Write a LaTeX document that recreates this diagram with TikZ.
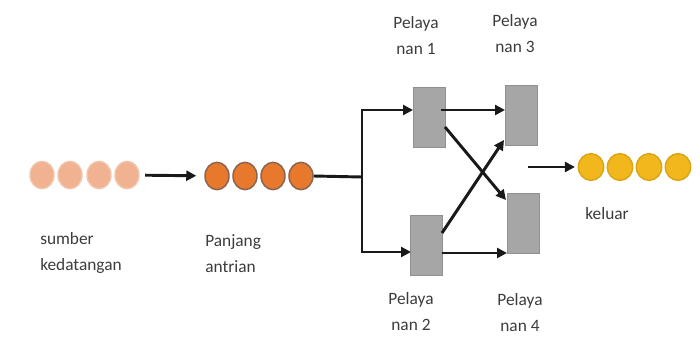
\documentclass[tikz,border=0pt]{standalone}
\usepackage{fontspec}
\setmainfont{Carlito}
\usetikzlibrary{arrows.meta,shapes.geometric}
\definecolor{srcfill}{HTML}{F0B290}
\definecolor{srcline}{HTML}{EFC6AC}
\definecolor{qfill}{HTML}{E8792C}
\definecolor{qline}{HTML}{8A6450}
\definecolor{outfill}{HTML}{F3B71E}
\definecolor{outline}{HTML}{D9A514}
\definecolor{srvfill}{HTML}{A6A6A6}
\definecolor{srvline}{HTML}{909090}
\definecolor{txt}{HTML}{3C3C3C}
\tikzset{
  dot/.style={ellipse, minimum width=18pt, minimum height=20.5pt, inner sep=0pt, line width=1.1pt},
  src/.style={dot, fill=srcfill, draw=srcline},
  que/.style={dot, fill=qfill, draw=qline},
  outd/.style={dot, fill=outfill, draw=outline, minimum width=19pt, minimum height=20pt},
  server/.style={rectangle, fill=srvfill, draw=srvline, line width=0.6pt,
    minimum width=24pt, minimum height=45pt, inner sep=0pt},
  flow/.style={line width=2.2pt, black!90},
  arr/.style={flow, -{Triangle[length=7.5pt,width=7.5pt]}},
  lbl/.style={text=txt, font=\fontsize{13}{19.5}\selectfont, inner sep=0pt},
}
\begin{document}
\begin{tikzpicture}[x=0.75pt, y=-0.75pt]
\useasboundingbox (0,0) rectangle (700,336);

% arrival source
\node[src] (s1) at (42,175) {};
\node[src] (s2) at (70,175) {};
\node[src] (s3) at (99,175) {};
\node[src] (s4) at (127,175) {};

% queue
\node[que] (q1) at (217,176) {};
\node[que] (q2) at (245,176) {};
\node[que] (q3) at (273,176) {};
\node[que] (q4) at (301,176) {};

% leaving customers
\node[outd] (o1) at (591,167) {};
\node[outd] (o2) at (620,167) {};
\node[outd] (o3) at (649,167) {};
\node[outd] (o4) at (678,167) {};

% servers
\node[server] (p1) at (429,117.5) {};
\node[server] (p2) at (426.5,245) {};
\node[server] (p3) at (521.5,115.5) {};
\node[server] (p4) at (523,223.5) {};

% branch point and contact points
\coordinate (split) at (362,177);
\coordinate (p1in) at (413,110);
\coordinate (p2in) at (411,252);
\coordinate (p1out) at (441,110);
\coordinate (p3in) at (505,110);
\coordinate (p1dg) at (445,127);
\coordinate (p4dg) at (506,200);
\coordinate (p2dg) at (442,233);
\coordinate (p3dg) at (504,140);
\coordinate (p2out) at (442,253);
\coordinate (p4in) at (507,253);
\coordinate (exit) at (528,167);

% connectors
\draw[arr, shorten <=4pt, shorten >=6pt] (s4) -- (q1);
\draw[flow] (q4.east) -- (split);
\draw[arr] (split) |- (p1in);
\draw[arr] (split) |- (p2in);
\draw[arr] (p1out) -- (p3in);
\draw[arr] (p1dg) -- (p4dg);
\draw[arr] (p2dg) -- (p3dg);
\draw[arr] (p2out) -- (p4in);
\draw[arr, shorten >=2pt] (exit) -- (o1);

% labels
\node[lbl, align=center] (l1) at (416,36) {Pelaya\\nan 1};
\node[lbl, align=center] (l3) at (515,34) {Pelaya\\nan 3};
\node[lbl, align=center] (l2) at (411,312) {Pelaya\\nan 2};
\node[lbl, align=center] (l4) at (520,313) {Pelaya\\nan 4};
\node[lbl] (lk) at (607,214) {keluar};
\node[lbl, align=left, anchor=north west] (ls) at (40,232) {sumber\\kedatangan};
\node[lbl, align=left, anchor=north west] (lq) at (205,234) {Panjang\\antrian};
\end{tikzpicture}
\end{document}
